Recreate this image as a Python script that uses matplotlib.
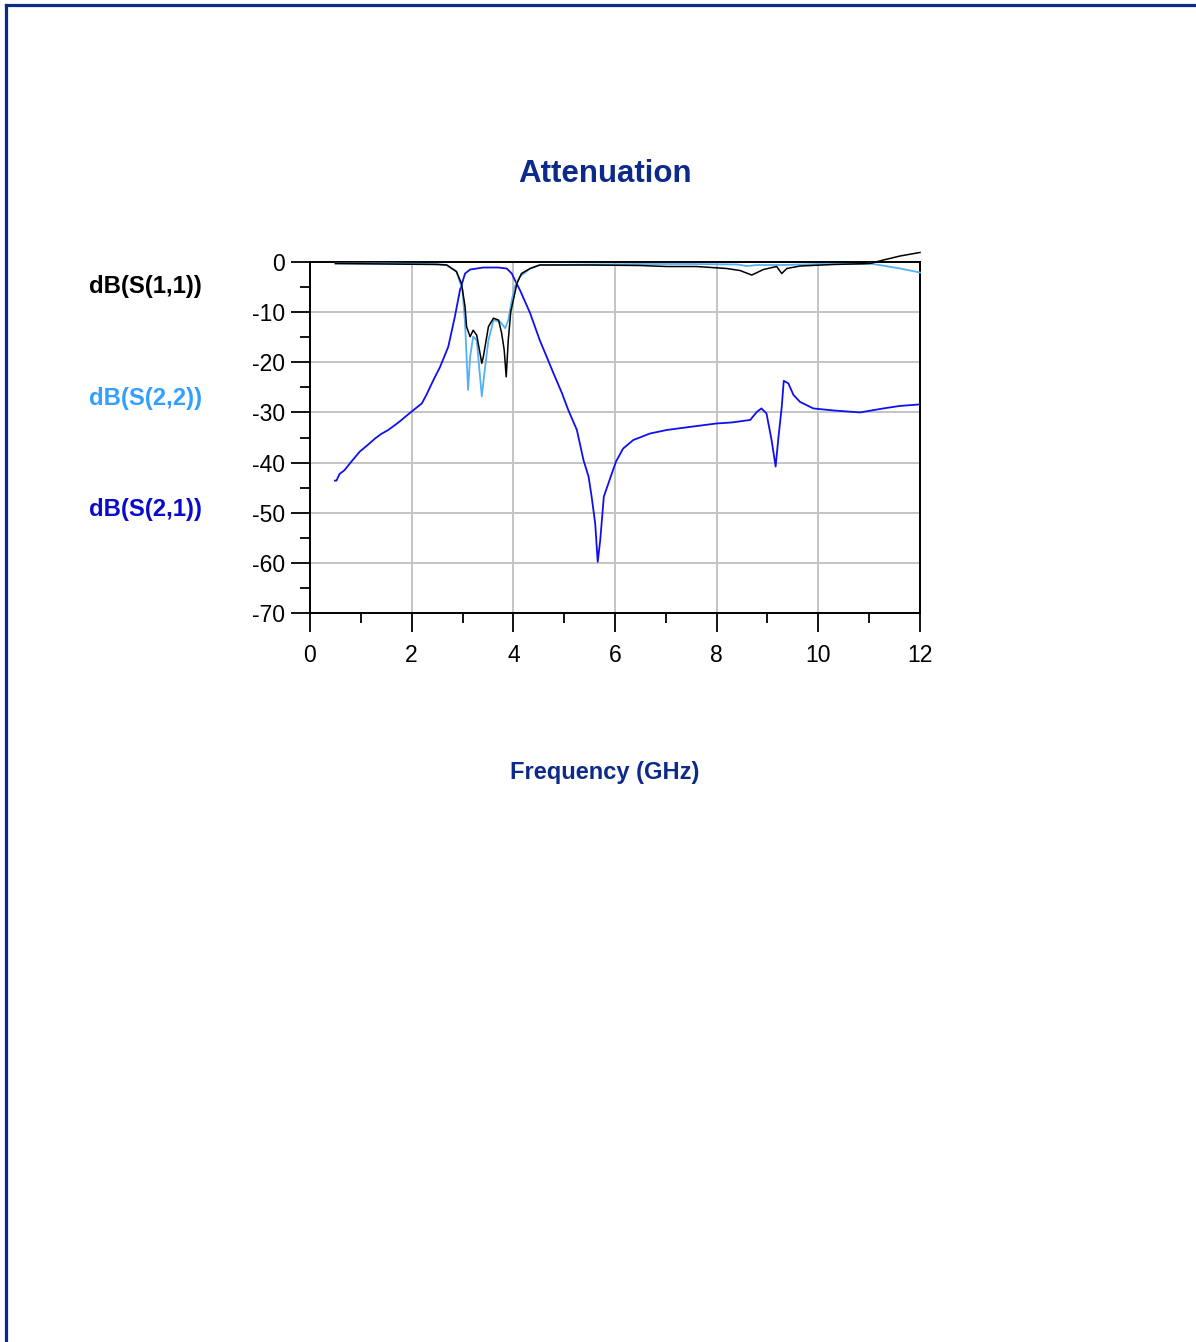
import matplotlib
matplotlib.use("Agg")
import matplotlib.pyplot as plt
from matplotlib.lines import Line2D

plt.rcParams['font.family'] = ['Liberation Sans', 'DejaVu Sans']
plt.rcParams['axes.unicode_minus'] = False

# S21 (transmission)
s21_freq = [0.49, 0.52, 0.58, 0.68, 0.79, 0.98, 1.1, 1.28, 1.4, 1.54, 1.74, 1.99, 2.2, 2.29, 2.43,
            2.56, 2.72, 2.85, 2.95, 3.05, 3.15, 3.41, 3.7, 3.87, 3.97, 4.03, 4.13, 4.33, 4.52,
            4.66, 4.79, 4.95, 5.08, 5.25, 5.38, 5.48, 5.54, 5.61, 5.66, 5.71, 5.78, 5.94, 6.02,
            6.16, 6.36, 6.69, 7.02, 7.54, 8.0, 8.3, 8.66, 8.79, 8.88, 8.98, 9.08, 9.16, 9.21,
            9.28, 9.32, 9.41, 9.51, 9.64, 9.9, 10.29, 10.82, 11.28, 11.61, 12.0]
s21_db = [-43.6, -43.6, -42.3, -41.5, -40.1, -37.8, -36.8, -35.2, -34.3, -33.5, -32.0, -29.9, -28.2, -26.5, -23.5,
          -20.9, -16.9, -10.9, -5.6, -2.3, -1.5, -1.1, -1.1, -1.3, -2.3, -3.6, -5.6, -10.2, -15.6,
          -19.0, -22.2, -26.0, -29.5, -33.5, -39.5, -42.8, -46.8, -52.1, -59.8, -55.4, -46.8, -42.1, -39.8,
          -37.2, -35.5, -34.2, -33.5, -32.8, -32.2, -32.0, -31.5, -29.9, -29.2, -30.2, -35.5, -40.8, -35.5,
          -28.9, -23.7, -24.2, -26.5, -27.9, -29.2, -29.6, -30.0, -29.2, -28.7, -28.4]

# S11 (input return loss)
s11_freq = [0.5, 1.5, 2.5, 2.69, 2.88, 2.98, 3.05, 3.08, 3.15, 3.21, 3.28, 3.38, 3.41, 3.51, 3.61,
            3.71, 3.77, 3.82, 3.86, 3.9, 3.95, 4.0, 4.07, 4.16, 4.33, 4.52, 5.5, 6.5, 7.02, 7.6,
            8.2, 8.46, 8.69, 8.92, 9.18, 9.28, 9.38, 9.64, 10.3, 11.02, 11.28, 11.61, 12.0]
s11_db = [-0.3, -0.4, -0.5, -0.6, -1.9, -4.3, -8.9, -12.9, -14.9, -13.6, -14.6, -20.2, -18.9, -12.9, -11.2,
          -11.6, -14.2, -17.5, -22.9, -15.6, -9.9, -7.6, -4.3, -2.3, -1.3, -0.6, -0.6, -0.7, -0.9, -0.9,
          -1.3, -1.7, -2.6, -1.5, -0.9, -2.3, -1.3, -0.8, -0.5, -0.3, 0.4, 1.2, 1.9]

# S22 (output return loss)
s22_freq = [0.5, 1.5, 2.5, 2.69, 2.88, 3.0, 3.05, 3.08, 3.11, 3.15, 3.21, 3.28, 3.38, 3.43, 3.51,
            3.61, 3.74, 3.84, 3.9, 3.97, 4.03, 4.13, 4.33, 4.52, 5.5, 6.5, 7.5, 8.4, 8.6, 8.8,
            9.3, 10.0, 10.9, 11.02, 11.61, 12.0]
s22_db = [-0.3, -0.3, -0.4, -0.6, -1.9, -5.6, -12.2, -18.9, -25.5, -18.9, -14.9, -15.6, -26.8, -22.2, -15.6,
          -11.6, -11.9, -13.2, -11.6, -7.6, -4.9, -2.9, -1.3, -0.6, -0.5, -0.4, -0.4, -0.5, -0.8, -0.6,
          -0.6, -0.4, -0.4, -0.3, -1.3, -2.1]

x_ticks = [0, 2, 4, 6, 8, 10, 12]
y_ticks = [0, -10, -20, -30, -40, -50, -60, -70]

navy = "#0c2a8a"

fig = plt.figure(figsize=(11.96, 13.42), dpi=100)
ax = fig.add_axes([310 / 1196, 1 - 613 / 1342, 610 / 1196, 351 / 1342])

ax.plot(s21_freq, s21_db, color="#1010ee", lw=1.3, zorder=3)
ax.plot(s22_freq, s22_db, color="#55b0f5", lw=1.3, zorder=4, clip_on=False)
ax.plot(s11_freq, s11_db, color="black", lw=1.1, zorder=5, clip_on=False)

ax.set_xlim(0, 12)
ax.set_ylim(-70, 0)
ax.set_xticks(x_ticks)
ax.set_yticks(y_ticks)
ax.set_xticks([1, 3, 5, 7, 9, 11], minor=True)
ax.set_yticks([-5, -15, -25, -35, -45, -55, -65], minor=True)
ax.tick_params(axis="both", which="major", length=14, width=1.3, labelsize=16.5, pad=4, direction="out")
ax.tick_params(axis="both", which="minor", length=7.5, width=1.3, direction="out")
ax.tick_params(axis="x", pad=8)
ax.grid(True, which="major", color="#c4c4c4", lw=1.4, zorder=0)
for sp in ax.spines.values():
    sp.set_linewidth(1.4)
    sp.set_color("black")

# title and axis label
fig.text(605 / 1196, 1 - 174 / 1342, "Attenuation", ha="center", va="center",
         fontsize=22.5, fontweight="bold", color=navy)
fig.text(605 / 1196, 1 - 772 / 1342, "Frequency (GHz)", ha="center", va="center",
         fontsize=17, fontweight="bold", color=navy)

# series labels on the left
fig.text(89 / 1196, 1 - 286 / 1342, "dB(S(1,1))", ha="left", va="center",
         fontsize=17.2, fontweight="bold", color="black")
fig.text(89 / 1196, 1 - 398 / 1342, "dB(S(2,2))", ha="left", va="center",
         fontsize=17.2, fontweight="bold", color="#33a0ff")
fig.text(89 / 1196, 1 - 510 / 1342, "dB(S(2,1))", ha="left", va="center",
         fontsize=17.2, fontweight="bold", color="#0a0acc")

# page frame
fig.add_artist(Line2D([5.5 / 1196, 5.5 / 1196], [0, 1 - 4.5 / 1342], color=navy, lw=2.3,
                      transform=fig.transFigure))
fig.add_artist(Line2D([5.5 / 1196, 1], [1 - 4.5 / 1342, 1 - 4.5 / 1342], color=navy, lw=2.3,
                      transform=fig.transFigure))

fig.savefig("out.png", dpi=100, facecolor="white")
